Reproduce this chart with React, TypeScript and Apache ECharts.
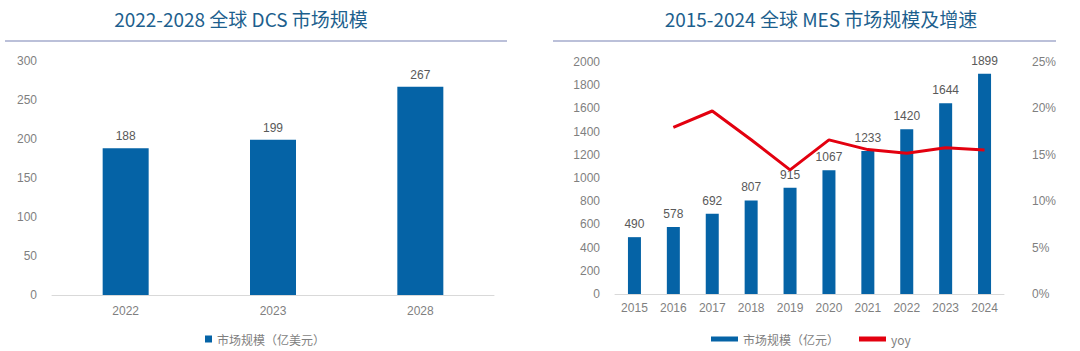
import React, { useEffect, useRef } from "react";
import * as echarts from "echarts";

const dcsYears = ["2022", "2023", "2028"];
const dcsValues = [188, 199, 267];

const mesYears = ["2015", "2016", "2017", "2018", "2019", "2020", "2021", "2022", "2023", "2024"];
const mesValues = [490, 578, 692, 807, 915, 1067, 1233, 1420, 1644, 1899];
const mesYoy = [null, 17.96, 19.72, 16.62, 13.38, 16.61, 15.56, 15.17, 15.77, 15.51];

const leftTitle = "2022-2028 全球 DCS 市场规模";
const rightTitle = "2015-2024 全球 MES 市场规模及增速";

const BLUE = "#0563a6";
const RED = "#e3000f";
const GRAY = "#7f7f7f";
const LABEL = "#595959";
const FONT = "'Liberation Sans', 'Noto Sans CJK SC', sans-serif";
const CJK = "'Noto Sans CJK SC', sans-serif";

export default function App() {
  const ref = useRef<HTMLDivElement>(null);
  useEffect(() => {
    document.body.style.margin = "0";
    const chart = echarts.init(ref.current!, null, { renderer: "svg" });
    const titleStyle = { color: "#1d5f8e", fontSize: 19, fontWeight: "normal", fontFamily: CJK };
    chart.setOption({
      animation: false,
      backgroundColor: "#ffffff",
      title: [
        { text: leftTitle, left: 236, textAlign: "center", top: 4, textStyle: titleStyle },
        { text: rightTitle, left: 816, textAlign: "center", top: 4, textStyle: titleStyle },
      ],
      graphic: [
        { type: "line", shape: { x1: 5, y1: 41, x2: 507, y2: 41 }, style: { stroke: "#a4abcc", lineWidth: 1.5 } },
        { type: "line", shape: { x1: 553, y1: 41, x2: 1056, y2: 41 }, style: { stroke: "#a4abcc", lineWidth: 1.5 } },
      ],
      legend: [
        {
          data: [{ name: "市场规模（亿美元）", icon: "rect" }],
          left: 200,
          top: 328,
          itemWidth: 7,
          itemHeight: 7,
          itemGap: 4,
          textStyle: { color: GRAY, fontSize: 12, fontFamily: CJK },
        },
        {
          data: [
            { name: "市场规模（亿元）", icon: "rect" },
            { name: "yoy", icon: "rect" },
          ],
          left: 706,
          top: 328,
          itemWidth: 27,
          itemHeight: 5,
          itemGap: 20,
          textStyle: { color: GRAY, fontSize: 12, fontFamily: CJK },
        },
      ],
      grid: [
        { left: 52, right: 586, top: 61, bottom: 56 },
        { left: 615, right: 76, top: 62, bottom: 57 },
      ],
      xAxis: [
        {
          type: "category",
          gridIndex: 0,
          data: dcsYears,
          axisLine: { lineStyle: { color: "#d9d9d9" } },
          axisTick: { show: false },
          axisLabel: { color: GRAY, fontSize: 12, fontFamily: FONT, margin: 10 },
        },
        {
          type: "category",
          gridIndex: 1,
          data: mesYears,
          axisLine: { lineStyle: { color: "#d9d9d9" } },
          axisTick: { show: false },
          axisLabel: { color: GRAY, fontSize: 12, fontFamily: FONT, margin: 8 },
        },
      ],
      yAxis: [
        {
          type: "value",
          gridIndex: 0,
          min: 0,
          max: 300,
          interval: 50,
          splitLine: { show: false },
          axisLine: { show: false },
          axisTick: { show: false },
          axisLabel: { color: GRAY, fontSize: 12, fontFamily: FONT, margin: 15 },
        },
        {
          type: "value",
          gridIndex: 1,
          min: 0,
          max: 2000,
          interval: 200,
          splitLine: { show: false },
          axisLine: { show: false },
          axisTick: { show: false },
          axisLabel: {
            color: GRAY,
            fontSize: 12,
            fontFamily: FONT,
            margin: 15,
            formatter: (v: number) => String(v),
          },
        },
        {
          type: "value",
          gridIndex: 1,
          position: "right",
          min: 0,
          max: 25,
          interval: 5,
          splitLine: { show: false },
          axisLine: { show: false },
          axisTick: { show: false },
          axisLabel: { color: GRAY, fontSize: 12, fontFamily: FONT, margin: 28, formatter: "{value}%" },
        },
      ],
      series: [
        {
          name: "市场规模（亿美元）",
          type: "bar",
          xAxisIndex: 0,
          yAxisIndex: 0,
          data: dcsValues,
          barWidth: 46,
          itemStyle: { color: BLUE },
          label: { show: true, position: "top", color: LABEL, fontSize: 12, fontFamily: FONT, distance: 6 },
        },
        {
          name: "市场规模（亿元）",
          type: "bar",
          xAxisIndex: 1,
          yAxisIndex: 1,
          data: mesValues,
          barWidth: 13,
          itemStyle: { color: BLUE },
          label: { show: true, position: "top", color: LABEL, fontSize: 12, fontFamily: FONT, distance: 7 },
        },
        {
          name: "yoy",
          type: "line",
          xAxisIndex: 1,
          yAxisIndex: 2,
          data: mesYoy,
          showSymbol: false,
          symbol: "none",
          lineStyle: { color: RED, width: 3 },
          itemStyle: { color: RED },
        },
      ],
    });
    return () => chart.dispose();
  }, []);
  return <div ref={ref} style={{ width: 1080, height: 351 }} />;
}
